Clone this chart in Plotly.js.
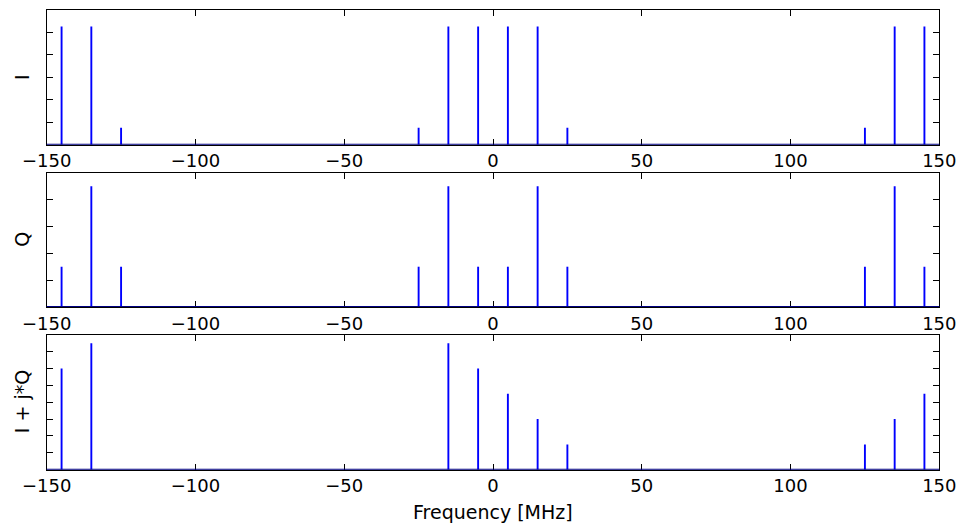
<!DOCTYPE html>
<html>
<head>
<meta charset="utf-8">
<script src="https://cdn.plot.ly/plotly-3.0.1.min.js"></script>
<style>html,body{margin:0;padding:0;background:#fff;}#chart{width:961px;height:525px;}</style>
</head>
<body>
<div id="chart"></div>
<script>
// Data (frequency in MHz, stem amplitudes)
const freqs = [-145, -135, -125, -25, -15, -5, 5, 15, 25, 125, 135, 145];
const iAmp  = [0.525, 0.525, 0.075, 0.075, 0.525, 0.525, 0.525, 0.525, 0.075, 0.075, 0.525, 0.525];
const qAmp  = [0.15, 0.45, 0.15, 0.15, 0.45, 0.15, 0.15, 0.45, 0.15, 0.15, 0.45, 0.15];
const iqAmp = [0.6, 0.75, 0, 0, 0.75, 0.6, 0.45, 0.3, 0.15, 0.15, 0.3, 0.45];
const yTitles = ['I', 'Q', 'I + j*Q'];
const xTitle = 'Frequency [MHz]';
const yRanges = [[0, 0.6], [0, 0.5], [0, 0.8]];
const xTicks = [-150, -100, -50, 0, 50, 100, 150];

function stems(x, y, xa, ya) {
  const xs = [], ys = [];
  for (let i = 0; i < x.length; i++) {
    xs.push(x[i], x[i], null);
    ys.push(0, y[i], null);
  }
  return {x: xs, y: ys, xaxis: xa, yaxis: ya, type: 'scatter', mode: 'lines',
          line: {color: '#0000ff', width: 1.9}, connectgaps: false, hoverinfo: 'skip', showlegend: false};
}

const W = 961, H = 525;
const xDom = [46.7 / W, 939.3 / W];
const yDoms = [
  [1 - 144.7 / H, 1 - 9.5 / H],
  [1 - 307.0 / H, 1 - 172.7 / H],
  [1 - 469.7 / H, 1 - 334.7 / H]
];

const font = {family: 'DejaVu Sans, sans-serif', size: 18, color: '#000'};
const titleFont = {family: 'DejaVu Sans, sans-serif', size: 19, color: '#000'};
const data = [
  stems(freqs, iAmp, 'x', 'y'),
  stems(freqs, qAmp, 'x2', 'y2'),
  stems(freqs, iqAmp, 'x3', 'y3')
];

const layout = {
  width: W, height: H,
  margin: {l: 0, r: 0, t: 0, b: 0},
  paper_bgcolor: '#fff', plot_bgcolor: '#fff',
  font: font,
  showlegend: false,
  annotations: [], shapes: []
};

for (let k = 0; k < 3; k++) {
  const sx = k === 0 ? '' : String(k + 1);
  layout['xaxis' + sx] = {
    domain: xDom, anchor: 'y' + sx, range: [-150, 150],
    tickmode: 'array', tickvals: xTicks,
    ticks: 'inside', ticklen: 6, tickwidth: 1, tickcolor: '#000',
    showline: true, linecolor: '#000', linewidth: 1, mirror: 'ticks',
    showgrid: false, zeroline: false, automargin: false,
    tickfont: font
  };
  layout['yaxis' + sx] = {
    domain: yDoms[k], anchor: 'x' + sx, range: yRanges[k],
    tickmode: 'linear', tick0: 0, dtick: 0.1,
    ticks: 'inside', ticklen: 6, tickwidth: 1, tickcolor: '#000',
    showline: true, linecolor: '#000', linewidth: 1, mirror: 'ticks',
    showgrid: false, zeroline: false, showticklabels: false, automargin: false
  };
  layout.shapes.push({type: 'line', xref: 'x' + sx + ' domain', yref: 'y' + sx,
    x0: 0, x1: 1, y0: 0, y1: 0, line: {color: '#000080', width: 2}, layer: 'above'});
  layout.annotations.push({text: yTitles[k], xref: 'paper', yref: 'paper',
    x: 22 / W, y: (yDoms[k][0] + yDoms[k][1]) / 2, textangle: -90,
    showarrow: false, font: titleFont, xanchor: 'center', yanchor: 'middle'});
}
layout.annotations.push({text: xTitle, xref: 'paper', yref: 'paper',
  x: (xDom[0] + xDom[1]) / 2, y: 1 - 511.5 / H, showarrow: false, font: titleFont,
  xanchor: 'center', yanchor: 'middle'});

Plotly.newPlot('chart', data, layout, {staticPlot: true, displayModeBar: false});
</script>
</body>
</html>
